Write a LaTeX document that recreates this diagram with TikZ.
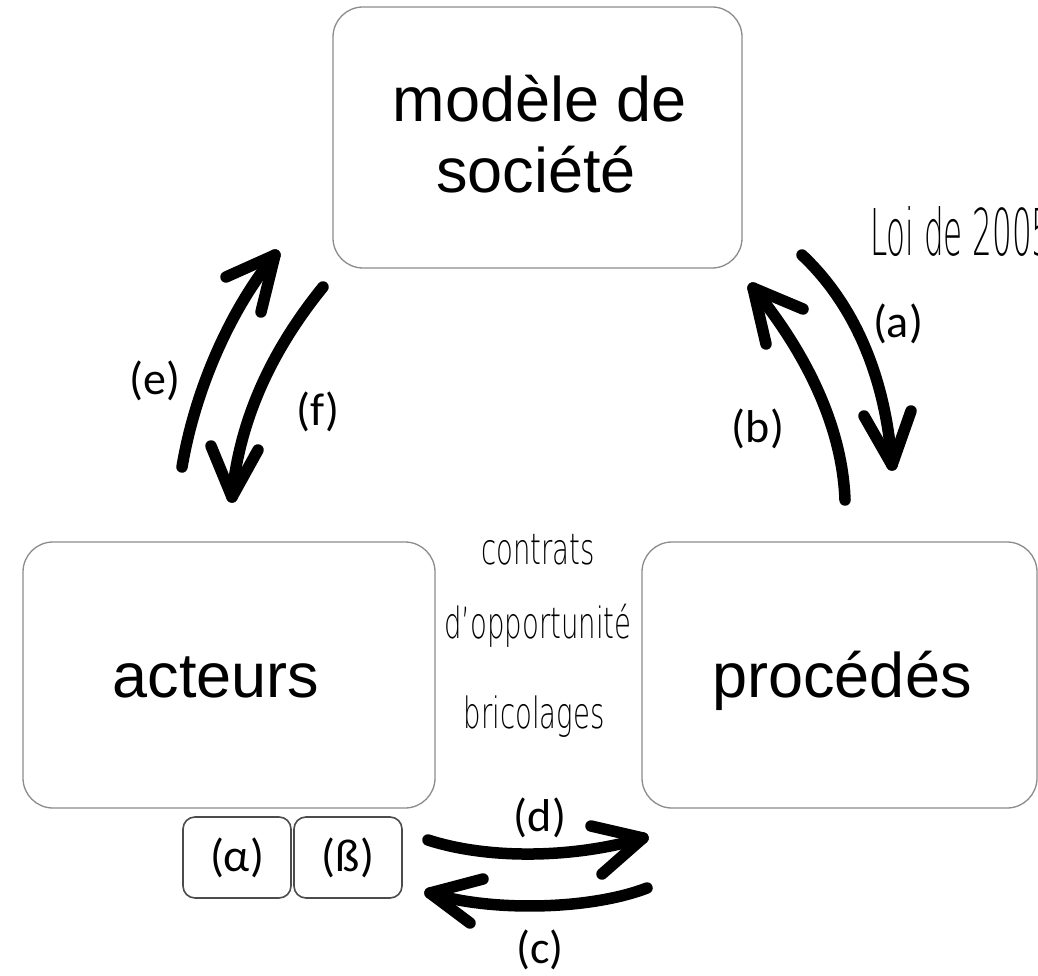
\documentclass[tikz,border=0pt]{standalone}
\usepackage{fontspec}
\setmainfont{Liberation Sans}
\newfontfamily\lblfont{Carlito}
\IfFontExistsTF{DejaVu Sans ExtraLight}{%
  \newfontfamily\handfont[FakeStretch=0.64]{DejaVu Sans ExtraLight}%
  \newfontfamily\loifont[FakeStretch=0.48]{DejaVu Sans ExtraLight}%
}{%
  \newfontfamily\handfont[FakeStretch=0.64]{DejaVu Sans}%
  \newfontfamily\loifont[FakeStretch=0.48]{DejaVu Sans}%
}
\tikzset{
  bigbox/.style={draw=black!45, line width=1.3pt, rounded corners=30pt, inner sep=0pt},
  smallbox/.style={draw=black!70, line width=1.6pt, rounded corners=12pt, inner sep=0pt, minimum width=108pt, minimum height=81pt},
  boxtext/.style={font=\fontsize{63}{74}\selectfont, anchor=base, inner sep=0pt},
  lbl/.style={font=\lblfont\fontsize{46}{50}\selectfont, inner sep=0pt},
  hand/.style={font=\handfont\fontsize{43}{48}\selectfont, anchor=base, inner sep=0pt},
  arr/.style={line width=11.5pt, line cap=round, line join=round}
}
\begin{document}
\begin{tikzpicture}[x=1pt,y=-1pt]
\fill[white] (0,0) rectangle (1038,976);
\useasboundingbox (0,0) rectangle (1038,976);

% boxes
\node[bigbox, minimum width=409pt, minimum height=261pt] (soc) at (537.5,137.5) {};
\node[bigbox, minimum width=412pt, minimum height=266pt] (act) at (229,675) {};
\node[bigbox, minimum width=395pt, minimum height=266pt] (proc) at (839.5,675) {};
\node[smallbox] (alpha) at (237,857.5) {};
\node[smallbox] (beta) at (348,857.5) {};

% box texts
\node[boxtext] (soct1) at (540,122) {modèle de};
\node[boxtext] (soct2) at (536,193) {société};
\node[boxtext] (actt) at (216,697) {acteurs};
\node[boxtext] (proct) at (842,697) {procédés};
\node[lbl] (alphat) at (alpha.center) {(α)};
\node[lbl] (betat) at (beta.center) {(ß)};

% hand-written texts
\node[hand, anchor=base west, font=\loifont\fontsize{64.5}{70}\selectfont] (loi) at (870,255) {Loi de 2005};
\node[hand] (contr) at (538,564) {contrats};
\node[hand] (opp) at (538,638) {d’opportunité};
\node[hand] (bric) at (534,728) {bricolages};

% arrow (a)
\coordinate (a0) at (802,255); \coordinate (a1) at (892,465);
\coordinate (ah1) at (864,416); \coordinate (ah2) at (911,411);
\draw[arr] (a0) .. controls (850,300) and (885,370) .. (a1);
\draw[arr] (ah1) -- (a1) -- (ah2);
% arrow (b)
\coordinate (b0) at (845,500); \coordinate (b1) at (753,288);
\coordinate (bh1) at (803,309); \coordinate (bh2) at (766,344);
\draw[arr] (b0) .. controls (842,420) and (800,345) .. (b1);
\draw[arr] (bh1) -- (b1) -- (bh2);
% arrow (e)
\coordinate (e0) at (182,467); \coordinate (e1) at (275,255);
\coordinate (eh1) at (226,277); \coordinate (eh2) at (261,312);
\draw[arr] (e0) .. controls (195,390) and (230,310) .. (e1);
\draw[arr] (eh1) -- (e1) -- (eh2);
% arrow (f)
\coordinate (f0) at (323,287); \coordinate (f1) at (232,497);
\coordinate (fh1) at (211,446); \coordinate (fh2) at (258,450);
\draw[arr] (f0) .. controls (280,340) and (240,410) .. (f1);
\draw[arr] (fh1) -- (f1) -- (fh2);
% arrow (d)
\coordinate (d0) at (428,840); \coordinate (d1) at (643,838);
\coordinate (dh1) at (591,826); \coordinate (dh2) at (602,874);
\draw[arr] (d0) .. controls (490,860) and (575,858) .. (d1);
\draw[arr] (dh1) -- (d1) -- (dh2);
% arrow (c)
\coordinate (c0) at (647,888); \coordinate (c1) at (430,893);
\coordinate (ch1) at (483,879); \coordinate (ch2) at (470,923);
\draw[arr] (c0) .. controls (590,910) and (490,912) .. (c1);
\draw[arr] (ch1) -- (c1) -- (ch2);

% labels
\node[lbl] (la) at (898,324) {(a)};
\node[lbl] (lb) at (758,429) {(b)};
\node[lbl] (le) at (155,381) {(e)};
\node[lbl] (lf) at (318,412) {(f)};
\node[lbl] (ld) at (540,818) {(d)};
\node[lbl] (lc) at (540,950) {(c)};
\end{tikzpicture}
\end{document}
